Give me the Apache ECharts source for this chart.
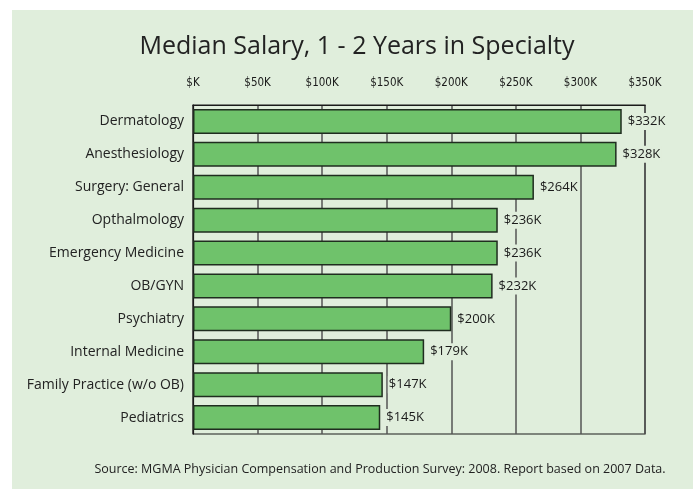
<!DOCTYPE html>
<html>
<head>
<meta charset="utf-8">
<script src="https://cdn.jsdelivr.net/npm/echarts@6/dist/echarts.min.js"></script>
<style>
  html, body { margin: 0; padding: 0; background: #ffffff; }
  #panel { position: absolute; left: 12px; top: 10px; width: 681px; height: 479px; background: #e0eedc; }
  #chart { position: absolute; left: 0; top: 0; width: 697px; height: 489px; }
</style>
</head>
<body>
<div id="panel"></div>
<div id="chart"></div>
<script>
(function (window, echarts) {
    // data, top to bottom
    var specialties = ['Dermatology', 'Anesthesiology', 'Surgery: General', 'Opthalmology',
        'Emergency Medicine', 'OB/GYN', 'Psychiatry', 'Internal Medicine',
        'Family Practice (w/o OB)', 'Pediatrics'];
    var salaries = [332, 328, 264, 236, 236, 232, 200, 179, 147, 145]; // $K
    var tickValues = [0, 50, 100, 150, 200, 250, 300, 350];

    var bg = '#e0eedc';
    var chart = echarts.init(document.getElementById('chart'));

    var option = {
        backgroundColor: 'transparent',
        title: [{
            text: 'Median Salary, 1 - 2 Years in Specialty',
            left: 352, top: 29, textAlign: 'center',
            textStyle: { fontFamily: 'Open Sans', fontWeight: 'normal', fontSize: 25, color: '#222' }
        }, {
            text: 'Source: MGMA Physician Compensation and Production Survey: 2008. Report based on 2007 Data.',
            left: 375, top: 458, textAlign: 'center',
            textStyle: { fontFamily: 'Open Sans', fontWeight: 'normal', fontSize: 12.5, color: '#222' }
        }],
        grid: {
            left: 193, right: 52, top: 105, bottom: 55,
            show: true, borderColor: '#1a1a1a', borderWidth: 1.2,
            backgroundColor: 'transparent'
        },
        xAxis: {
            type: 'value',
            position: 'top',
            min: 0, max: 350, interval: 50,
            axisLine: { show: true, lineStyle: { color: '#1a1a1a', width: 1.2 } },
            axisTick: { show: false },
            splitLine: { show: true, lineStyle: { color: '#555', width: 1.5 } },
            axisLabel: {
                margin: 16,
                fontFamily: 'DejaVu Sans Condensed, Roboto, sans-serif',
                fontSize: 11.5, color: '#1a1a1a',
                formatter: function (v) {
                    return tickValues.indexOf(v) >= 0 ? (v === 0 ? '$K' : '$' + v + 'K') : '';
                }
            }
        },
        yAxis: {
            type: 'category',
            inverse: true,
            data: specialties,
            axisLine: { show: true, lineStyle: { color: '#1a1a1a', width: 1.2 } },
            axisTick: { show: false },
            axisLabel: { margin: 9, fontFamily: 'Open Sans', fontSize: 14, color: '#222' }
        },
        series: [{
            type: 'bar',
            data: salaries,
            barWidth: 25,
            itemStyle: { color: '#6fc26b', borderColor: '#1f2d1f', borderWidth: 1.5 },
            label: {
                show: true, position: 'right', distance: 5,
                fontFamily: 'Open Sans', fontSize: 13, color: '#1a1a1a',
                backgroundColor: bg, padding: [2, 1],
                formatter: function (p) { return '$' + p.value + 'K'; }
            },
            silent: true
        }],
        animation: false
    };

    chart.setOption(option);
})(window, echarts);
</script>
</body>
</html>
